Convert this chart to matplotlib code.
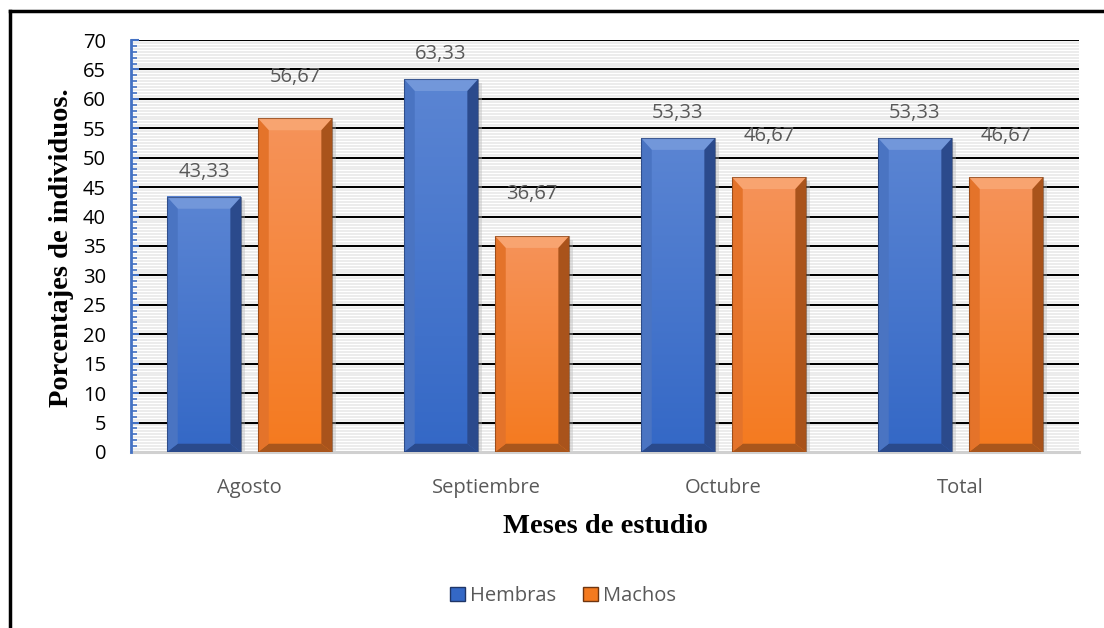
"""
Porcentajes de individuos por mes (Hembras / Machos)
bar chart with bevelled bars, Excel style
"""

##Third party
import numpy as np
import matplotlib
matplotlib.use('Agg')
import matplotlib.pyplot as plt
from matplotlib.patches import Polygon, Rectangle, Patch
from matplotlib.lines import Line2D

###data
meses = ['Agosto', 'Septiembre', 'Octubre', 'Total']
hembras = [43.33, 63.33, 53.33, 53.33]
machos = [56.67, 36.67, 46.67, 46.67]
series_names = ['Hembras', 'Machos']
yticks = np.arange(0, 75, 5)

###styles
text_gray = '#595959'
tick_font = 'Open Sans'
title_font = 'Liberation Serif'
styles = {
    'Hembras': dict(top='#5b85d3', bottom='#3468c6', bev_top='#7297da',
                    bev_right='#2b4a8c', bev_bottom='#2a4a8c', bev_left='#4a74c2',
                    edge='#1f3566', label_off=18),
    'Machos': dict(top='#f6935a', bottom='#f47a1f', bev_top='#f8a470',
                   bev_right='#a9531b', bev_bottom='#a9561c', bev_left='#e4732a',
                   edge='#6e3510', label_off=30),
}


def bevel_bar(ax, bar, st, bx, by):
    '''
    draws gradient face + bevel strips over one bar
    '''
    x0, y0 = bar.get_x(), bar.get_y()
    x1, y1 = x0 + bar.get_width(), y0 + bar.get_height()

    ##soft shadow on the right
    ax.add_patch(Rectangle((x1, y0), bx * 0.4, y1 - y0 - by * 0.3,
                           facecolor='#b8b8b8', alpha=0.4, lw=0, zorder=2.5))

    ##gradient face
    grad = np.linspace(0, 1, 100).reshape(-1, 1)
    c_top = np.array(matplotlib.colors.to_rgb(st['top']))
    c_bot = np.array(matplotlib.colors.to_rgb(st['bottom']))
    img = c_top[None, None, :] * (1 - grad[:, :, None]) + c_bot[None, None, :] * grad[:, :, None]
    ax.imshow(img, extent=(x0, x1, y0, y1), aspect='auto', origin='upper',
              zorder=3, interpolation='bilinear')

    ##bevels
    polys = [
        ([(x0, y1), (x1, y1), (x1 - bx, y1 - by), (x0 + bx, y1 - by)], st['bev_top']),
        ([(x1, y1), (x1, y0), (x1 - bx, y0 + by * 0.7), (x1 - bx, y1 - by)], st['bev_right']),
        ([(x0, y0), (x1, y0), (x1 - bx, y0 + by * 0.7), (x0 + bx, y0 + by * 0.7)], st['bev_bottom']),
        ([(x0, y0), (x0, y1), (x0 + bx, y1 - by), (x0 + bx, y0 + by * 0.7)], st['bev_left']),
    ]
    for pts, col in polys:
        ax.add_patch(Polygon(pts, closed=True, facecolor=col, edgecolor='none', zorder=4))
    ax.add_patch(Rectangle((x0, y0), x1 - x0, y1 - y0, facecolor='none',
                           edgecolor=st['edge'], lw=0.8, alpha=0.6, zorder=5))


fig = plt.figure(figsize=(11.04, 6.28), dpi=100)
fig.patch.set_facecolor('white')
plot = fig.add_axes([0.1187, 0.2803, 0.9774 - 0.1187, 0.9363 - 0.2803])

x = np.arange(len(meses))
width = 0.312
offset = 0.192

plot.set_xlim(-0.5, len(meses) - 0.5)
plot.set_ylim(0, 70)

###gridlines
for v in np.arange(0.5, 70, 0.5):
    if v % 5 != 0:
        plot.axhline(v, color='#e9e9e9', lw=1.2, zorder=0.5)
for v in yticks[1:]:
    plot.axhline(v, color='black', lw=1.5, zorder=1)

###bars
bx = 0.045
by = 2.0
for vals, name, sign in zip([hembras, machos], series_names, [-1, 1]):
    st = styles[name]
    bars = plot.bar(x + sign * offset, vals, width, color=st['bottom'], zorder=2, lw=0)
    for b, v in zip(bars, vals):
        bevel_bar(plot, b, st, bx, by)
        plot.annotate(f'{v:.2f}'.replace('.', ','), (b.get_x() + b.get_width() / 2, v),
                      xytext=(0, st['label_off']), textcoords='offset points',
                      ha='center', va='center', fontsize=14.5, color=text_gray,
                      family=tick_font, zorder=6)

###axes look
plot.set_xticks(x)
plot.set_xticklabels(meses, family=tick_font, fontsize=14.5, color=text_gray)
plot.set_yticks(yticks)
plot.set_yticklabels([str(v) for v in yticks], family=tick_font, fontsize=14.5, color='black')
plot.set_yticks(np.arange(0, 71, 1), minor=True)
plot.tick_params(axis='x', length=0, pad=19)
plot.tick_params(axis='y', which='major', direction='in', length=6, width=1.5,
                 color='#4472c4', pad=18)
plot.tick_params(axis='y', which='minor', direction='in', length=4, width=1.2,
                 color='#4472c4')
for side in ['top', 'right']:
    plot.spines[side].set_visible(False)
plot.spines['left'].set_color('#4472c4')
plot.spines['left'].set_linewidth(2)
plot.spines['left'].set_zorder(7)
plot.spines['bottom'].set_color('#d0d0d0')
plot.spines['bottom'].set_linewidth(2.2)

###axis titles
fig.text(62 / 1104, 0.606, 'Porcentajes de individuos.', rotation=90, ha='center',
         va='center', family=title_font, fontweight='bold', fontsize=20.5, color='black')
fig.text(605 / 1104, 0.162, 'Meses de estudio', ha='center', va='center',
         family=title_font, fontweight='bold', fontsize=20.5, color='black')

###legend
handles = [Patch(facecolor=styles[n]['bottom'], edgecolor=styles[n]['edge'], lw=1)
           for n in series_names]
fig.legend(handles, series_names, loc='center', bbox_to_anchor=(563 / 1104, 1 - 596 / 628),
           ncol=2, frameon=False, prop={'family': tick_font, 'size': 14.5},
           labelcolor=text_gray, handlelength=0.72, handleheight=0.72,
           handletextpad=0.25, columnspacing=1.35)

###chart border (left and top visible)
fig.add_artist(Line2D([10 / 1104, 10 / 1104], [0, 1 - 11 / 628], color='black', lw=2.5,
                      transform=fig.transFigure))
fig.add_artist(Line2D([10 / 1104, 1], [1 - 11 / 628, 1 - 11 / 628], color='black', lw=2.5,
                      transform=fig.transFigure))

fig.savefig('out.png', dpi=100)
